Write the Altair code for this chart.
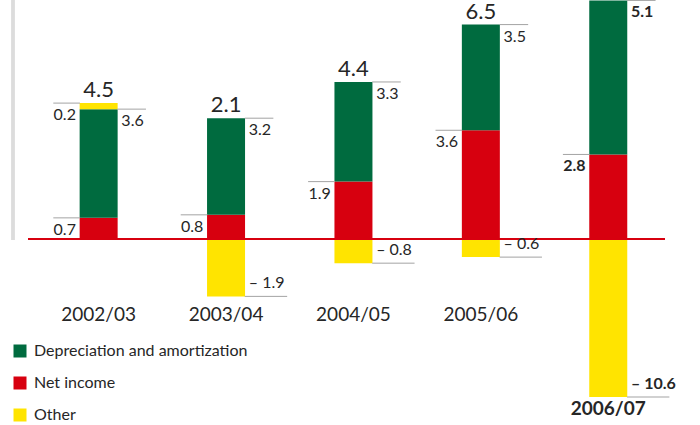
import altair as alt
import pandas as pd

# Cash-flow components per fiscal year (billions)
years = ["2002/03", "2003/04", "2004/05", "2005/06", "2006/07"]
net_income = [0.7, 0.8, 1.9, 3.6, 2.8]
depreciation = [3.6, 3.2, 3.3, 3.5, 5.1]
other = [0.2, -1.9, -0.8, -0.6, -10.6]
current_year = "2006/07"

series_names = ["Depreciation and amortization", "Net income", "Other"]
series_colors = ["#006B3F", "#D7000F", "#FFE400"]

# Layout in pixels
W, VIEW_H, PAD_B = 700, 397, 28
STEP, BAR_W = 129.25, 38
FIRST_X = 95
ZERO_Y = 239
PX_PER_UNIT = 30.2
FONT = "Lato"
INK = "#262626"
LEADER = "#a3a3a3"

Y_MIN = -(VIEW_H - ZERO_Y) / PX_PER_UNIT
Y_MAX = ZERO_Y / PX_PER_UNIT
X_MIN = -FIRST_X / STEP
X_MAX = (W - FIRST_X) / STEP
HALF = BAR_W / 2 / STEP


def fmt(v):
    return f"{v:.1f}" if v >= 0 else f"\u2013 {abs(v):.1f}"


# Stacked segments with explicit bounds
seg_rows, lab_rows = [], []
for i, yr in enumerate(years):
    ni, da, ot = net_income[i], depreciation[i], other[i]
    bold = yr == current_year
    seg_rows.append(dict(idx=i, year=yr, series="Net income", y0=0, y1=ni))
    seg_rows.append(dict(idx=i, year=yr, series="Depreciation and amortization", y0=ni, y1=ni + da))
    lab_rows.append(dict(idx=i, kind="left", y=ni, text=fmt(ni), bold=bold))
    lab_rows.append(dict(idx=i, kind="right", y=ni + da, text=fmt(da), bold=bold))
    top = ni + da
    if ot >= 0:
        seg_rows.append(dict(idx=i, year=yr, series="Other", y0=top, y1=top + ot))
        lab_rows.append(dict(idx=i, kind="left", y=top + ot, text=fmt(ot), bold=bold))
        top += ot
    else:
        seg_rows.append(dict(idx=i, year=yr, series="Other", y0=0, y1=ot))
        lab_rows.append(dict(idx=i, kind="neg", y=max(ot, Y_MIN), text=fmt(ot), bold=bold))
    lab_rows.append(dict(idx=i, kind="total", y=top, text=fmt(round(ni + da + ot, 1)), bold=False))

segs = pd.DataFrame(seg_rows)
labs = pd.DataFrame(lab_rows)

lead_len = {"left": 27, "right": 29, "neg": 43}
labs["x0"] = labs.apply(
    lambda r: r.idx - HALF - lead_len["left"] / STEP if r.kind == "left" else r.idx + HALF, axis=1)
labs["x1"] = labs.apply(
    lambda r: r.idx - HALF if r.kind == "left"
    else (r.idx + HALF + lead_len.get(r.kind, 0) / STEP), axis=1)
labs["tx"] = labs.apply(
    lambda r: r.idx - HALF if r.kind == "left" else (r.idx if r.kind == "total" else r.idx + HALF), axis=1)

x_scale = alt.Scale(domain=[X_MIN, X_MAX], nice=False, zero=False)
y_scale = alt.Scale(domain=[Y_MIN, Y_MAX], nice=False, zero=False)

bars = alt.Chart(segs).mark_bar(width=BAR_W, clip=True).encode(
    x=alt.X("idx:Q", scale=x_scale, axis=None),
    y=alt.Y("y0:Q", scale=y_scale, axis=None),
    y2="y1:Q",
    color=alt.Color(
        "series:N",
        scale=alt.Scale(domain=series_names, range=series_colors),
        legend=alt.Legend(
            orient="none", legendX=12, legendY=343, title=None,
            symbolType="square", symbolSize=169, symbolStrokeWidth=0,
            labelFont=FONT, labelFontSize=16, labelColor=INK, labelLimit=0,
            labelOffset=6, rowPadding=16, padding=0,
        ),
    ),
)

leaders = alt.Chart(labs).transform_filter("datum.kind != 'total'").mark_rule(
    color=LEADER, strokeWidth=1
).encode(x="x0:Q", x2="x1:Q", y="y:Q")

zero_line = alt.Chart(segs).mark_rule(color="#D7000F", strokeWidth=2).encode(
    x=alt.value(28), x2=alt.value(665), y=alt.datum(0)
)

side_rail = alt.Chart(segs).mark_rule(color="#dcdcdc", strokeWidth=2.5).encode(
    x=alt.value(13), y=alt.value(0), y2=alt.value(ZERO_Y + 1)
)


def value_text(kind, bold, align, dx, dy, size):
    cond = f"datum.kind == '{kind}' && datum.bold == {'true' if bold else 'false'}"
    return alt.Chart(labs).transform_filter(cond).mark_text(
        align=align, baseline="middle", dx=dx, dy=dy, font=FONT, fontSize=size,
        fontWeight="bold" if bold else "normal", color=INK,
    ).encode(x="tx:Q", y="y:Q", text="text:N")


texts = []
for b in (False, True):
    texts.append(value_text("left", b, "right", -4, 12, 16))
    texts.append(value_text("right", b, "left", 4, 12, 16))
    texts.append(value_text("neg", b, "left", 4, -13, 16))
texts.append(value_text("total", False, "center", 0, -13, 22))

cats = pd.DataFrame({"idx": list(range(len(years))), "year": years})
cat_regular = alt.Chart(cats).transform_filter(f"datum.year != '{current_year}'").mark_text(
    font=FONT, fontSize=19, color=INK, baseline="middle"
).encode(x="idx:Q", y=alt.value(315), text="year:N")
cat_current = alt.Chart(cats).transform_filter(f"datum.year == '{current_year}'").mark_text(
    font=FONT, fontSize=19, fontWeight="bold", color=INK, baseline="middle"
).encode(x="idx:Q", y=alt.value(VIEW_H + 12), text="year:N")

chart = alt.layer(
    side_rail, bars, zero_line, leaders, *texts, cat_regular, cat_current
).properties(
    width=W, height=VIEW_H,
    autosize=alt.AutoSizeParams(type="none"),
    padding={"left": 0, "top": 0, "right": 0, "bottom": PAD_B},
).configure_view(stroke=None)

chart.save("out.html", embed_options={"renderer": "svg", "actions": False})
